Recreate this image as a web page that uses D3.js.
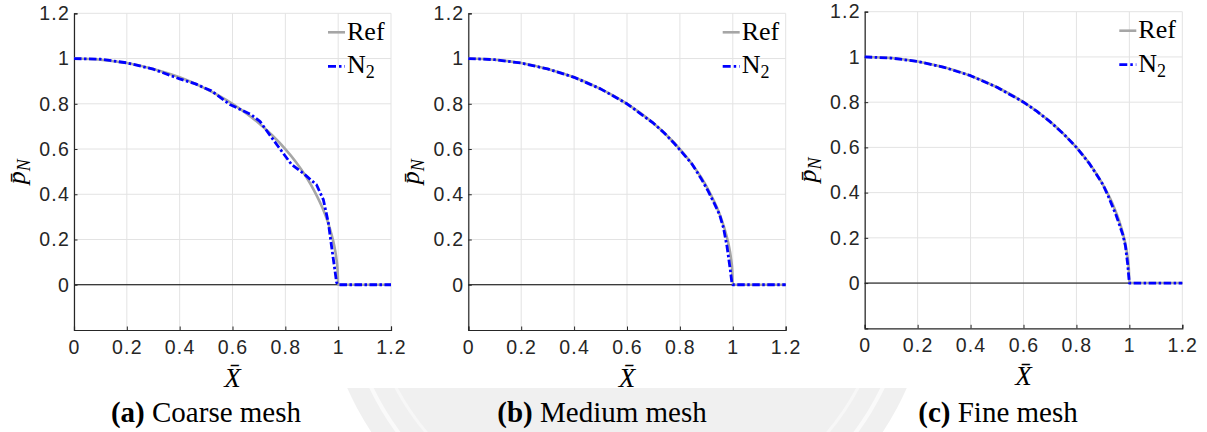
<!DOCTYPE html>
<html>
<head>
<meta charset="utf-8">
<script src="https://cdn.jsdelivr.net/npm/d3@7"></script>
<style>
  html, body { margin: 0; padding: 0; background: #fff; }
  svg { display: block; }
</style>
</head>
<body>
<svg id="fig" width="1207" height="432"></svg>
<script>
// Normalised contact pressure p̄_N along X̄ for three mesh refinements.

// Reference solution
const refX = [0, 0.1, 0.2, 0.3, 0.4, 0.5, 0.55, 0.6, 0.65, 0.7, 0.75, 0.8, 0.84, 0.88, 0.91, 0.94, 0.96, 0.975, 0.985, 0.993, 0.998, 1.0, 1.2];
const refP = [1.0, 0.995, 0.98, 0.954, 0.917, 0.866, 0.835, 0.8, 0.76, 0.714, 0.661, 0.6, 0.543, 0.475, 0.414, 0.341, 0.28, 0.222, 0.173, 0.118, 0.063, 0, 0];

// N2 solution, coarse mesh
const coarseX = [0, 0.1, 0.2, 0.3, 0.4, 0.46, 0.52, 0.59, 0.672, 0.704, 0.773, 0.824, 0.874, 0.918, 0.944, 0.963, 0.975, 0.994, 1.0, 1.2];
const coarseP = [1.0, 0.997, 0.981, 0.953, 0.91, 0.888, 0.857, 0.797, 0.751, 0.722, 0.611, 0.531, 0.487, 0.442, 0.376, 0.273, 0.17, 0.01, 0, 0];

// N2 solution, medium mesh
const mediumX = [0, 0.1, 0.2, 0.3, 0.4, 0.5, 0.6, 0.7, 0.74, 0.78, 0.845, 0.88, 0.905, 0.93, 0.95, 0.965, 0.978, 0.99, 0.997, 1.0, 1.2];
const mediumP = [1.0, 0.995, 0.98, 0.954, 0.917, 0.866, 0.8, 0.714, 0.672, 0.623, 0.535, 0.47, 0.418, 0.36, 0.31, 0.25, 0.17, 0.07, 0.005, 0, 0];

// N2 solution, fine mesh
const fineX = [0, 0.1, 0.2, 0.3, 0.4, 0.5, 0.6, 0.65, 0.7, 0.75, 0.8, 0.85, 0.9, 0.92, 0.95, 0.975, 0.985, 0.993, 1.0, 1.2];
const fineP = [1.0, 0.995, 0.98, 0.954, 0.917, 0.866, 0.8, 0.76, 0.714, 0.661, 0.6, 0.527, 0.436, 0.385, 0.3, 0.215, 0.165, 0.09, 0, 0];

// Axes
const xTicks = [0, 0.2, 0.4, 0.6, 0.8, 1, 1.2];
const xTickLabels = ["0", "0.2", "0.4", "0.6", "0.8", "1", "1.2"];
const yTicks = [0, 0.2, 0.4, 0.6, 0.8, 1, 1.2];
const yTickLabels = ["0", "0.2", "0.4", "0.6", "0.8", "1", "1.2"];
const xDomain = [0, 1.2];
const yDomain = [-0.2, 1.2];

// Legend and captions
const seriesNames = ["Ref", "N"];
const captionTags = ["(a)", "(b)", "(c)"];
const captionTexts = ["Coarse mesh", "Medium mesh", "Fine mesh"];

const solutions = [[coarseX, coarseP], [mediumX, mediumP], [fineX, fineP]];

// Panel frames (pixel boxes of each axes)
const frames = [
  { left: 74,    right: 391,    top: 13.3, bottom: 330,   capX: 206 },
  { left: 468.3, right: 785.7,  top: 13.3, bottom: 330,   capX: 602 },
  { left: 864.7, right: 1182.3, top: 11.7, bottom: 328.3, capX: 998 }
];

const svg = d3.select("#fig");
const SERIF = "'Liberation Serif', 'Times New Roman', serif";
const SANS = "'Liberation Sans', Arial, Helvetica, sans-serif";
const AXIS_COL = "#262626";
const GRID_COL = "#e3e3e3";
const REF_COL = "#a6a6a6";
const N2_COL = "#0000ff";
const DASHDOT = "7.5,2.5,2.5,2.5";

// Faint seal printed behind the captions
const wm = svg.append("g");
wm.append("clipPath").attr("id", "wmclip")
  .append("rect").attr("x", 0).attr("y", 388).attr("width", 1207).attr("height", 44);
const seal = wm.append("g").attr("clip-path", "url(#wmclip)");
seal.append("circle").attr("cx", 627).attr("cy", 264).attr("r", 306).attr("fill", "#f0f0f0");
seal.append("circle").attr("cx", 627).attr("cy", 264).attr("r", 284)
  .attr("fill", "none").attr("stroke", "#fafafa").attr("stroke-width", 4);
seal.append("circle").attr("cx", 627).attr("cy", 264).attr("r", 262)
  .attr("fill", "none").attr("stroke", "#f7f7f7").attr("stroke-width", 3);

frames.forEach((f, i) => {
  const x = d3.scaleLinear().domain(xDomain).range([f.left, f.right]);
  const y = d3.scaleLinear().domain(yDomain).range([f.bottom, f.top]);
  const g = svg.append("g");

  // grid
  g.append("g").selectAll("line").data(xTicks).join("line")
    .attr("x1", d => x(d)).attr("x2", d => x(d))
    .attr("y1", y(yDomain[0])).attr("y2", y(yDomain[1]))
    .attr("stroke", GRID_COL).attr("stroke-width", 1);
  g.append("g").selectAll("line").data(yTicks).join("line")
    .attr("x1", x(xDomain[0])).attr("x2", x(xDomain[1]))
    .attr("y1", d => y(d)).attr("y2", d => y(d))
    .attr("stroke", GRID_COL).attr("stroke-width", 1);

  // zero line
  g.append("line")
    .attr("x1", x(xDomain[0])).attr("x2", x(xDomain[1]))
    .attr("y1", y(0)).attr("y2", y(0))
    .attr("stroke", "#000").attr("stroke-width", 1);

  // axes (ticks point inward)
  const ax = g.append("g").attr("transform", `translate(0,${f.bottom})`)
    .call(d3.axisBottom(x).tickValues(xTicks)
      .tickFormat((d, k) => xTickLabels[k]).tickSize(-3.5).tickPadding(10));
  const ay = g.append("g").attr("transform", `translate(${f.left},0)`)
    .call(d3.axisLeft(y).tickValues(yTicks)
      .tickFormat((d, k) => yTickLabels[k]).tickSize(-3.5).tickPadding(4));
  [ax, ay].forEach(a => {
    a.attr("font-size", null).attr("font-family", null);
    a.select(".domain").attr("stroke", AXIS_COL).attr("stroke-width", 1.2);
    a.selectAll(".tick line").attr("stroke", AXIS_COL).attr("stroke-width", 1);
    a.selectAll(".tick text").attr("fill", AXIS_COL)
      .attr("font-family", SANS).attr("font-size", 19.5)
      .style("letter-spacing", "1.2px");
  });

  // data lines
  const refPts = refX.map((v, k) => [v, refP[k]]);
  g.append("path").datum(refPts)
    .attr("d", d3.line().x(d => x(d[0])).y(d => y(d[1])).curve(d3.curveMonotoneX))
    .attr("fill", "none").attr("stroke", REF_COL).attr("stroke-width", 2.6)
    .attr("stroke-linejoin", "round");
  const [sx, sp] = solutions[i];
  const solPts = sx.map((v, k) => [v, sp[k]]);
  g.append("path").datum(solPts)
    .attr("d", d3.line().x(d => x(d[0])).y(d => y(d[1])))
    .attr("fill", "none").attr("stroke", N2_COL).attr("stroke-width", 2.8)
    .attr("stroke-dasharray", DASHDOT).attr("stroke-linejoin", "round");

  // legend
  const lg = g.append("g").attr("transform", `translate(${f.right},${f.top})`);
  lg.append("line").attr("x1", -63).attr("x2", -46).attr("y1", 19).attr("y2", 19)
    .attr("stroke", REF_COL).attr("stroke-width", 2.6);
  lg.append("text").attr("x", -44).attr("y", 26.5)
    .style("font-family", SERIF).style("font-size", "26px").attr("fill", "#000")
    .text(seriesNames[0]);
  lg.append("line").attr("x1", -63).attr("x2", -46).attr("y1", 53).attr("y2", 53)
    .attr("stroke", N2_COL).attr("stroke-width", 2.8).attr("stroke-dasharray", "8,3,2.5,3");
  const nt = lg.append("text").attr("x", -44).attr("y", 60)
    .style("font-family", SERIF).style("font-size", "26px").attr("fill", "#000");
  nt.append("tspan").text(seriesNames[1]);
  nt.append("tspan").attr("dy", 5).style("font-size", "18px").text("2");

  // axis labels
  const cx = (f.left + f.right) / 2;
  g.append("text").attr("x", cx).attr("y", f.bottom + 56.5)
    .attr("text-anchor", "middle")
    .style("font-family", SERIF).style("font-size", "27px").style("font-style", "italic")
    .text("X\u0304");
  const cy = (f.top + f.bottom) / 2;
  const yl = g.append("text")
    .attr("transform", `translate(${f.left - 49},${cy}) rotate(-90)`)
    .attr("text-anchor", "middle")
    .style("font-family", SERIF).style("font-size", "26px").style("font-style", "italic");
  yl.append("tspan").text("p\u0304");
  yl.append("tspan").attr("dy", 5).style("font-size", "18px").text("N");

  // caption
  const cap = svg.append("text").attr("x", f.capX).attr("y", 421.5)
    .attr("text-anchor", "middle")
    .style("font-family", SERIF).style("font-size", "29px").attr("fill", "#000");
  cap.append("tspan").style("font-weight", "bold").text(captionTags[i]);
  cap.append("tspan").text(" " + captionTexts[i]);
});
</script>
</body>
</html>
